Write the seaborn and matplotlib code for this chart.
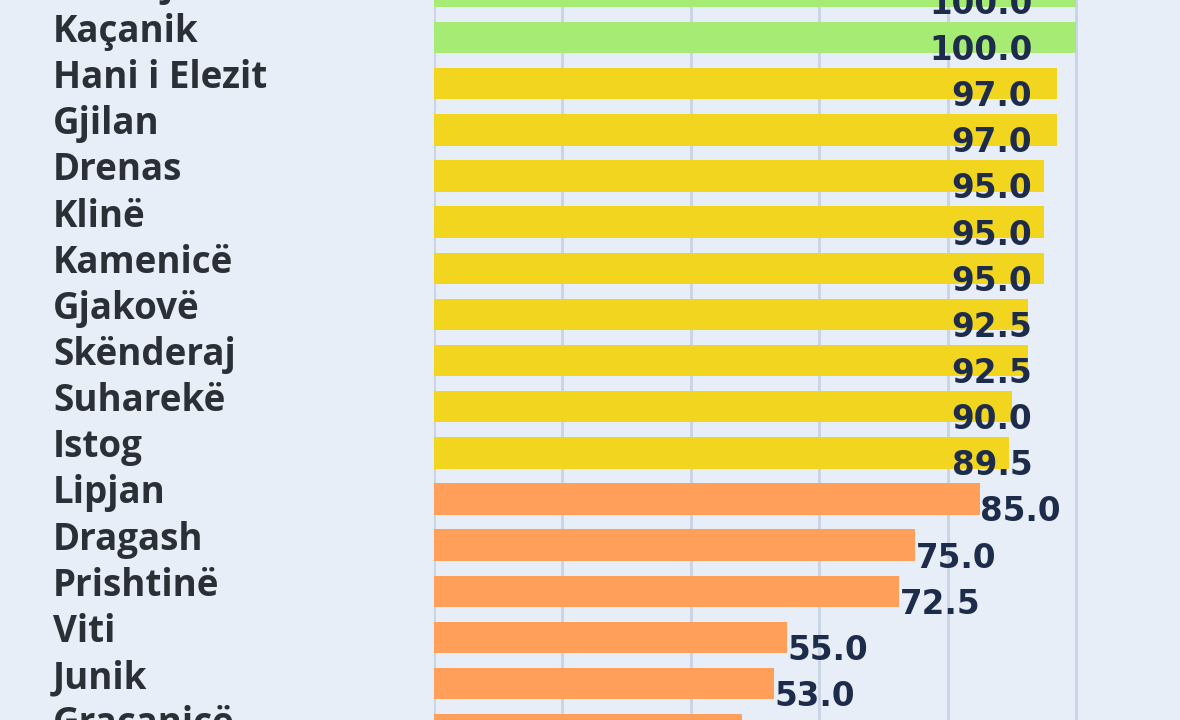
#!/usr/bin/env python3
# horizontal bar chart of municipality scores (cropped view)

import matplotlib
matplotlib.use('Agg')
import matplotlib.pyplot as plt
import seaborn as sns

# Data =========================================================================

names = ['Ferizaj', 'Kaçanik', 'Hani i Elezit', 'Gjilan', 'Drenas', 'Klinë',
         'Kamenicë', 'Gjakovë', 'Skënderaj', 'Suharekë', 'Istog', 'Lipjan',
         'Dragash', 'Prishtinë', 'Viti', 'Junik', 'Graçanicë']
scores = [100.0, 100.0, 97.0, 97.0, 95.0, 95.0, 95.0, 92.5, 92.5, 90.0, 89.5,
          85.0, 75.0, 72.5, 55.0, 53.0, 48.0]
grid_ticks = [0, 20, 40, 60, 80, 100]

# Style ========================================================================

BG = '#E8EEF7'
GREEN = '#A6EC74'
YELLOW = '#F2D51E'
ORANGE = '#FF9F5A'


def bar_color(v):
    if v >= 99.5:
        return GREEN
    if v >= 89:
        return YELLOW
    return ORANGE


def main():
    sns.set_style('white')
    fig = plt.figure(figsize=(11.8, 7.2), dpi=100, facecolor=BG)
    left = 434 / 1180
    ax = fig.add_axes([left, 0, 1 - left, 1])
    ax.set_facecolor(BG)

    colors = [bar_color(v) for v in scores]
    sns.barplot(x=scores, y=names, hue=names, palette=colors, legend=False,
                orient='h', width=0.68, saturation=1, linewidth=0,
                ax=ax, zorder=2)

    ax.set_xlim(0, 116.2)
    ax.set_ylim(15.79, 0.186)
    ax.set_xticks(grid_ticks)
    ax.grid(axis='x', color='#C9D3E6', linewidth=2, zorder=0)
    ax.set_axisbelow(True)
    ax.tick_params(axis='both', length=0, labelbottom=False, labelleft=False)
    ax.set_xlabel('')
    ax.set_ylabel('')
    for s in ax.spines.values():
        s.set_visible(False)

    # category names, left aligned in the margin
    name_x = (53 - 434) / (1180 - 434)
    for i, n in enumerate(names):
        ax.text(name_x, i - 0.12, n, transform=ax.get_yaxis_transform(),
                ha='left', va='center', fontsize=26.5, fontweight='bold',
                family=['Open Sans', 'DejaVu Sans'], color='#2B2F36',
                clip_on=False)

    # value labels
    for i, v in enumerate(scores):
        if v >= 89:
            x, ha = 93.2, 'right'
        else:
            x, ha = v, 'left'
        ax.text(x, i + 0.28, f'{v:.1f}', ha=ha, va='center', fontsize=23.5,
                fontweight='bold', family='DejaVu Sans', color='#1E2C4C',
                zorder=3)

    fig.savefig('out.png', dpi=100, facecolor=BG)


if __name__ == '__main__':
    main()
